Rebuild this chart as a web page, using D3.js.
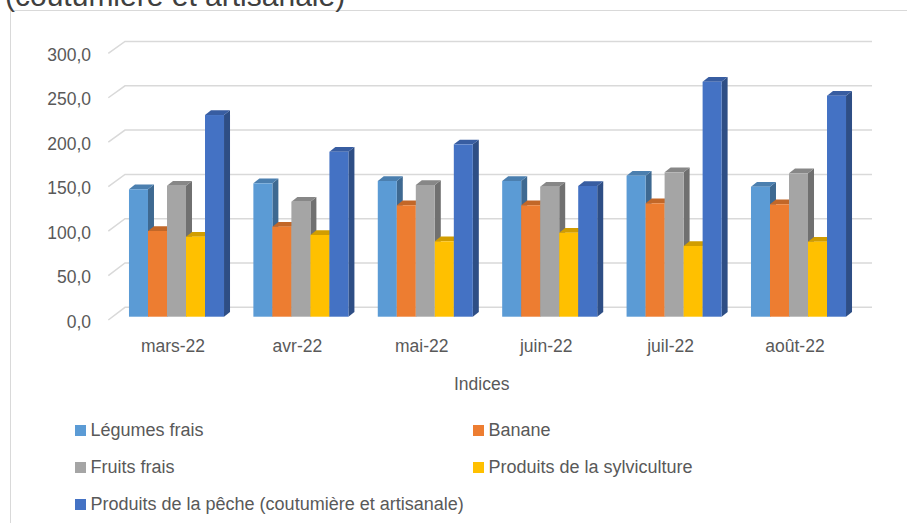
<!DOCTYPE html>
<html>
<head>
<meta charset="utf-8">
<script src="https://cdn.jsdelivr.net/npm/d3@7"></script>
<style>
  html, body { margin: 0; padding: 0; background: #ffffff; }
  svg { display: block; }
  text { font-family: "Liberation Sans", Arial, sans-serif; fill: #595959; }
</style>
</head>
<body>
<svg id="chart" width="907" height="523"></svg>
<script>
// ---------------- Data ----------------
const categories = ["mars-22", "avr-22", "mai-22", "juin-22", "juil-22", "août-22"];
const seriesNames = [
  "Légumes frais",
  "Banane",
  "Fruits frais",
  "Produits de la sylviculture",
  "Produits de la pêche (coutumière et artisanale)"
];
const legumesFrais  = [143.5, 150.2, 152.8, 152.8, 158.8, 146.4];
const banane        = [96.5, 101.4, 125.5, 125.5, 127.7, 126.6];
const fruitsFrais   = [147.5, 129.5, 148.3, 146.4, 162.6, 161.5];
const sylviculture  = [90.1, 92.0, 84.9, 94.6, 79.6, 84.5];
const peche         = [227.1, 185.8, 194.1, 147.2, 264.6, 248.9];
const seriesColors  = ["#5B9BD5", "#ED7D31", "#A5A5A5", "#FFC000", "#4472C4"];
const yTicks        = [0, 50, 100, 150, 200, 250, 300];
const titleText     = "(coutumière et artisanale)";
const xAxisTitle    = "Indices";

const seriesValues = [legumesFrais, banane, fruitsFrais, sylviculture, peche];

// ---------------- Layout ----------------
const svg = d3.select("#chart");
const W = 907, H = 523;

// chart frame (extends past the picture edges)
svg.append("rect")
  .attr("x", 10.5).attr("y", 10.5)
  .attr("width", W + 20).attr("height", H + 20)
  .attr("fill", "none").attr("stroke", "#d9d9d9").attr("stroke-width", 1);

// cut-off title
svg.append("text")
  .attr("x", 5).attr("y", 6)
  .attr("font-size", 30)
  .style("fill", "#404040")
  .text(titleText);

// 3D geometry
const wallDX = 16.7, wallDY = -12.7;       // floor depth offset
const frontLeft = 108.3;
const backRight = 872;
const yFront = d3.scaleLinear().domain([0, 300]).range([320, 53.3]);
const yBack  = d3.scaleLinear().domain([0, 300]).range([307.3, 41.5]);
const yBar   = d3.scaleLinear().domain([0, 300]).range([316.7, 50.3]);

const x0 = d3.scaleBand().domain(categories).range([114.3, 860.7])
  .paddingInner(0.236).paddingOuter(0.118);
const x1 = d3.scaleBand().domain(seriesNames).range([0, x0.bandwidth()]);

// gridlines: diagonal on side wall + horizontal on back wall
const grid = svg.append("g");
yTicks.forEach(v => {
  grid.append("path")
    .attr("d", `M${frontLeft},${yFront(v)} L${frontLeft + wallDX},${yBack(v)} L${backRight},${yBack(v)}`)
    .attr("fill", "none").attr("stroke", "#d9d9d9").attr("stroke-width", 1.5);
});

// y labels
svg.append("g").selectAll("text").data(yTicks).join("text")
  .attr("x", 91).attr("y", d => yFront(d) + 1.5)
  .attr("dy", "0.35em")
  .attr("text-anchor", "end")
  .attr("font-size", 17.5)
  .text(d => d.toFixed(1).replace(".", ","));

// bars (3D boxes)
const bdx = 6, bdy = -4.7;
const barsG = svg.append("g");
categories.forEach((c, ci) => {
  seriesNames.forEach((s, si) => {
    const v = seriesValues[si][ci];
    const col = d3.color(seriesColors[si]);
    const xl = x0(c) + x1(s);
    const xr = xl + x1.bandwidth();
    const yt = yBar(v);
    const yb = yBar(0);
    const side = d3.rgb(col.r * 0.68, col.g * 0.68, col.b * 0.68);
    const top = d3.rgb(col.r * 0.82, col.g * 0.82, col.b * 0.82);
    const g = barsG.append("g");
    // side face
    g.append("path")
      .attr("d", `M${xr},${yt} L${xr + bdx},${yt + bdy} L${xr + bdx},${yb + bdy} L${xr},${yb} Z`)
      .attr("fill", side);
    // top face
    g.append("path")
      .attr("d", `M${xl},${yt} L${xl + bdx},${yt + bdy} L${xr + bdx},${yt + bdy} L${xr},${yt} Z`)
      .attr("fill", top);
    // front face
    g.append("rect")
      .attr("x", xl).attr("y", yt)
      .attr("width", x1.bandwidth()).attr("height", yb - yt)
      .attr("fill", col);
  });
});

// category labels
svg.append("g").selectAll("text").data(categories).join("text")
  .attr("x", d => x0(d) + x0.bandwidth() / 2 - 3.5)
  .attr("y", 352)
  .attr("text-anchor", "middle")
  .attr("font-size", 17.5)
  .text(d => d);

// axis title
svg.append("text")
  .attr("x", 481.7).attr("y", 390)
  .attr("text-anchor", "middle")
  .attr("font-size", 17.5)
  .text(xAxisTitle);

// legend
const legendPos = [
  {x: 75, y: 436}, {x: 473, y: 436},
  {x: 75, y: 473}, {x: 473, y: 473},
  {x: 75, y: 510}
];
const legend = svg.append("g");
seriesNames.forEach((s, i) => {
  const p = legendPos[i];
  legend.append("rect")
    .attr("x", p.x).attr("y", p.y - 11)
    .attr("width", 11).attr("height", 11)
    .attr("fill", seriesColors[i]);
  legend.append("text")
    .attr("x", p.x + 15.5).attr("y", p.y)
    .attr("font-size", 18)
    .text(s);
});
</script>
</body>
</html>
